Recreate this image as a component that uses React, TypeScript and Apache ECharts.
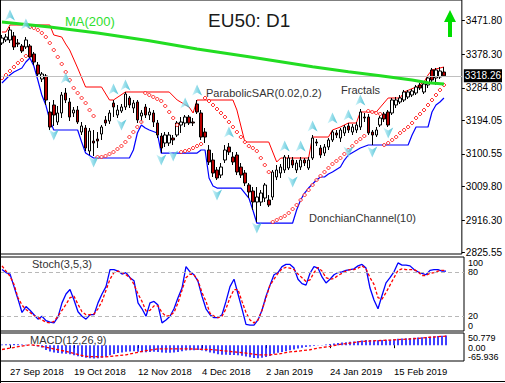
import React, { useEffect, useRef } from 'react';
import * as echarts from 'echarts';

const FF = '"Liberation Sans", Arial, sans-serif';

// x-axis tick labels (bar index -> label)
const tickIndex = [2, 18, 34, 50, 66, 82, 98];
const tickLabels = ['27 Sep 2018', '19 Oct 2018', '12 Nov 2018', '4 Dec 2018', '2 Jan 2019', '24 Jan 2019', '15 Feb 2019'];
const slotCount = 116;

const yTicks = [2825.55, 2916.3, 3009.8, 3100.55, 3194.05, 3284.8, 3378.3, 3471.8];
const stochLevels = [80, 20];
const stochBounds = [0, 100];
const macdZero = [0];
const macdBounds = [-65.936, 50.779];
const lastClose = 3318.26;

// [open, close, low, high]
const candles = [
  [3409.7, 3423.6, 3404.1, 3432.0], [3418.1, 3426.4, 3412.5, 3434.8], [3418.1, 3445.9, 3409.7, 3454.3],
  [3429.2, 3398.6, 3390.2, 3440.3], [3409.7, 3406.9, 3398.6, 3420.8], [3401.3, 3387.4, 3381.8, 3406.9],
  [3398.6, 3418.1, 3393.0, 3426.4], [3401.3, 3370.7, 3367.9, 3406.9], [3379.1, 3356.8, 3348.4, 3384.6],
  [3348.4, 3323.3, 3315.0, 3356.8], [3309.4, 3323.3, 3301.0, 3328.9], [3317.8, 3250.9, 3237.0, 3323.3],
  [3217.5, 3175.7, 3167.3, 3245.3], [3237.0, 3209.1, 3178.5, 3250.9], [3189.6, 3214.7, 3181.2, 3234.2],
  [3214.7, 3264.8, 3200.8, 3273.2], [3270.4, 3250.9, 3242.5, 3284.3], [3245.3, 3203.5, 3192.4, 3256.5],
  [3214.7, 3223.0, 3203.5, 3231.4], [3223.0, 3189.6, 3184.0, 3234.2], [3161.7, 3178.5, 3153.4, 3189.6],
  [3172.9, 3117.2, 3108.8, 3181.2], [3108.8, 3164.5, 3097.7, 3172.9], [3136.7, 3131.1, 3094.9, 3167.3],
  [3142.2, 3136.7, 3117.2, 3161.7], [3156.2, 3175.7, 3139.5, 3181.2], [3195.2, 3186.8, 3178.5, 3206.3],
  [3192.4, 3214.7, 3184.0, 3223.0], [3242.5, 3231.4, 3203.5, 3250.9], [3209.1, 3223.0, 3200.8, 3237.0],
  [3220.3, 3231.4, 3214.7, 3239.8], [3231.4, 3267.6, 3223.0, 3273.2], [3256.5, 3237.0, 3228.6, 3262.0],
  [3228.6, 3242.5, 3214.7, 3250.9], [3245.3, 3195.2, 3186.8, 3250.9], [3206.3, 3214.7, 3186.8, 3223.0],
  [3231.4, 3209.1, 3200.8, 3239.8], [3209.1, 3217.5, 3195.2, 3228.6], [3214.7, 3189.6, 3175.7, 3223.0],
  [3186.8, 3153.4, 3145.0, 3195.2], [3150.6, 3117.2, 3103.2, 3159.0], [3131.1, 3153.4, 3120.0, 3161.7],
  [3131.1, 3153.4, 3122.7, 3161.7], [3145.0, 3139.5, 3125.5, 3153.4], [3153.4, 3186.8, 3147.8, 3192.4],
  [3181.2, 3189.6, 3159.0, 3203.5], [3186.8, 3203.5, 3175.7, 3209.1], [3203.5, 3186.8, 3181.2, 3209.1],
  [3189.6, 3186.8, 3178.5, 3200.8], [3239.8, 3217.5, 3211.9, 3250.9], [3214.7, 3147.8, 3139.5, 3223.0],
  [3161.7, 3147.8, 3131.1, 3172.9], [3111.6, 3078.2, 3069.8, 3125.5], [3083.7, 3047.5, 3036.4, 3103.2],
  [3055.9, 3033.6, 3028.0, 3064.2], [3041.9, 3064.2, 3033.6, 3075.4], [3083.7, 3111.6, 3075.4, 3125.5],
  [3120.0, 3106.0, 3097.7, 3131.1], [3092.1, 3078.2, 3069.8, 3106.0], [3097.7, 3050.3, 3041.9, 3106.0],
  [3064.2, 3041.9, 3033.6, 3075.4], [3047.5, 3019.7, 3011.3, 3055.9], [3014.1, 2994.6, 2977.9, 3019.7],
  [2997.4, 2966.7, 2944.4, 3008.5], [2966.7, 2980.7, 2911.0, 3008.5], [2966.7, 2991.8, 2955.6, 3000.2],
  [2977.9, 3014.1, 2966.7, 3019.7], [2972.3, 2958.4, 2952.8, 2986.2], [2980.7, 3050.3, 2972.3, 3055.9],
  [3036.4, 3055.9, 3028.0, 3069.8], [3047.5, 3064.2, 3033.6, 3072.6], [3055.9, 3092.1, 3047.5, 3097.7],
  [3061.5, 3089.3, 3055.9, 3097.7], [3083.7, 3069.8, 3061.5, 3092.1], [3055.9, 3075.4, 3047.5, 3083.7],
  [3064.2, 3083.7, 3055.9, 3092.1], [3083.7, 3075.4, 3067.0, 3089.3], [3061.5, 3083.7, 3055.9, 3092.1],
  [3089.3, 3145.0, 3083.7, 3153.4], [3133.9, 3131.1, 3122.7, 3142.2], [3117.2, 3097.7, 3089.3, 3125.5],
  [3103.2, 3120.0, 3094.9, 3128.3], [3120.0, 3139.5, 3111.6, 3145.0], [3139.5, 3161.7, 3133.9, 3167.3],
  [3159.0, 3153.4, 3145.0, 3167.3], [3145.0, 3167.3, 3133.9, 3172.9], [3159.0, 3175.7, 3150.6, 3181.2],
  [3178.5, 3167.3, 3159.0, 3186.8], [3161.7, 3175.7, 3153.4, 3184.0], [3167.3, 3181.2, 3159.0, 3189.6],
  [3175.7, 3217.5, 3167.3, 3225.8], [3203.5, 3200.8, 3189.6, 3214.7], [3203.5, 3159.0, 3153.4, 3211.9],
  [3161.7, 3153.4, 3125.5, 3167.3], [3153.4, 3167.3, 3147.8, 3175.7], [3181.2, 3200.8, 3175.7, 3206.3],
  [3211.9, 3198.0, 3189.6, 3217.5], [3217.5, 3181.2, 3175.7, 3223.0], [3214.7, 3250.9, 3209.1, 3256.5],
  [3237.0, 3250.9, 3228.6, 3259.3], [3245.3, 3256.5, 3239.8, 3264.8], [3250.9, 3273.2, 3245.3, 3278.8],
  [3259.3, 3273.2, 3253.7, 3278.8], [3264.8, 3276.0, 3259.3, 3281.5], [3270.4, 3287.1, 3264.8, 3292.7],
  [3292.7, 3284.3, 3278.8, 3298.3], [3273.2, 3295.5, 3267.6, 3301.0], [3292.7, 3312.2, 3284.3, 3317.8],
  [3334.5, 3306.6, 3301.0, 3340.1], [3312.2, 3334.5, 3292.7, 3340.1], [3315.0, 3331.7, 3309.4, 3342.8],
  [3328.9, 3318.26, 3315.0, 3342.8],
];

// MA(200): [bar, value]
const ma200 = [
  [0, 3468.2], [12, 3454.3], [24, 3437.6], [37, 3416.1], [49, 3393.0], [62, 3371.5], [70, 3357.6],
  [78, 3343.7], [87, 3329.7], [95, 3318.6], [103, 3306.6], [107, 3299.1], [111, 3295.5],
];

// Donchian channel (10): [bar, value]
const donchianUpper = [
  [0, 3440.3], [1, 3440.3], [2, 3459.9], [12, 3459.9], [13, 3432.0], [15, 3426.4], [16, 3406.9], [17, 3390.2],
  [19, 3340.1], [21, 3287.1], [25, 3287.1], [27, 3250.9], [28, 3250.9], [31, 3273.2], [42, 3273.2], [44, 3250.9],
  [47, 3231.4], [48, 3214.7], [49, 3250.9], [58, 3250.9], [59, 3223.0], [61, 3133.9], [67, 3133.9], [69, 3078.2],
  [70, 3089.3], [77, 3089.3], [78, 3147.8], [82, 3147.8], [83, 3167.3], [85, 3175.7], [87, 3186.8], [89, 3186.8],
  [90, 3217.5], [94, 3217.5], [97, 3256.5], [100, 3256.5], [101, 3273.2], [104, 3287.1], [106, 3301.0],
  [107, 3320.5], [108, 3334.5], [111, 3342.8],
];
const donchianLower = [
  [0, 3298.3], [2, 3320.5], [3, 3328.9], [5, 3340.1], [6, 3356.8], [7, 3367.9], [8, 3345.6], [9, 3306.6],
  [10, 3264.8], [11, 3237.0], [12, 3195.2], [13, 3167.3], [19, 3167.3], [20, 3133.9], [21, 3103.2], [23, 3089.3],
  [32, 3089.3], [33, 3111.6], [34, 3159.0], [35, 3181.2], [36, 3172.9], [37, 3167.3], [39, 3159.0], [40, 3103.2],
  [49, 3103.2], [50, 3111.6], [51, 3111.6], [52, 3033.6], [53, 3011.3], [54, 3005.7], [60, 3005.7], [62, 2977.9],
  [63, 2944.4], [64, 2908.2], [73, 2908.2], [74, 2944.4], [75, 2972.3], [76, 2991.8], [77, 3005.7], [79, 3028.0],
  [80, 3036.4], [81, 3036.4], [82, 3044.7], [83, 3050.3], [85, 3064.2], [86, 3083.7], [87, 3097.7], [90, 3117.2],
  [92, 3125.5], [102, 3125.5], [103, 3153.4], [104, 3175.7], [107, 3175.7], [108, 3217.5], [109, 3237.0],
  [110, 3245.3], [111, 3256.5],
];

// Parabolic SAR (0.02, 0.2), one value per bar
const sar = [
  3312.2, 3320.5, 3331.7, 3342.8, 3354.0, 3362.3, 3373.5,
  3454.3, 3451.5, 3445.9, 3437.6, 3426.4, 3409.7, 3390.2, 3370.7, 3351.2, 3328.9, 3306.6, 3284.3, 3270.4, 3256.5, 3242.5, 3223.0, 3206.3,
  3092.1, 3092.1, 3094.9, 3100.5, 3106.0, 3114.4, 3122.7, 3133.9, 3147.8, 3161.7, 3175.7, 3189.6,
  3270.4, 3264.8, 3259.3, 3253.7, 3248.1, 3234.2, 3217.5, 3200.8, 3181.2,
  3106.0, 3108.8, 3111.6, 3117.2, 3122.7, 3128.3,
  3256.5, 3248.1, 3237.0, 3225.8, 3214.7, 3203.5, 3189.6, 3175.7, 3161.7, 3147.8, 3133.9, 3122.7, 3117.2, 3108.8, 3089.3, 3069.8, 3050.3,
  2911.0, 2916.6, 2922.2, 2927.7, 2936.1, 2947.2, 2958.4, 2972.3, 2986.2, 3000.2, 3014.1, 3028.0, 3039.2, 3050.3, 3061.5, 3072.6,
  3081.0, 3089.3, 3100.5, 3111.6, 3122.7, 3133.9, 3142.2, 3150.6,
  3220.3, 3217.5, 3214.7, 3211.9,
  3125.5, 3131.1, 3139.5, 3147.8, 3159.0, 3167.3, 3175.7, 3186.8, 3200.8, 3211.9, 3223.0, 3237.0, 3250.9, 3264.8, 3278.8, 3292.7,
];

// Fractals: [bar, marker level]
const fractalsUp = [
  [2, 3487.7], [6, 3462.6], [16, 3312.2], [28, 3281.5], [31, 3292.7], [46, 3242.5], [49, 3278.8],
  [57, 3161.7], [71, 3122.7], [75, 3122.7], [78, 3178.5], [83, 3200.8], [87, 3209.1], [90, 3250.9],
];
const fractalsDown = [
  [13, 3153.4], [23, 3078.2], [30, 3181.2], [40, 3083.7], [43, 3094.9], [54, 2986.2], [64, 2894.3],
  [73, 3022.4], [87, 3106.0], [93, 3106.0], [97, 3159.0],
];

// Stochastic (3,5,3)
const stochK = [
  83, 79, 77, 60, 43, 25, 33, 28, 22, 16,
  20, 14, 12, 11, 19, 38, 50, 56, 42, 26,
  20, 16, 22, 22, 38, 50, 60, 83, 83, 81,
  77, 79, 72, 68, 38, 30, 20, 38, 40, 35,
  11, 15, 20, 30, 45, 58, 87, 80, 76, 67,
  47, 30, 22, 18, 18, 22, 40, 60, 70, 50,
  30, 9, 8, 8, 15, 28, 47, 62, 76, 79,
  87, 90, 90, 85, 70, 64, 62, 78, 87, 85,
  73, 65, 70, 76, 79, 80, 82, 83, 84, 88,
  90, 85, 58, 42, 30, 48, 65, 72, 80, 92,
  89, 89, 88, 83, 80, 78, 76, 82, 83, 83,
  81, 81,
];
const stochD = [
  88, 81, 74, 63, 45, 35, 29, 25, 21, 18,
  15, 12, 11, 13, 20, 28, 36, 45, 47, 36,
  26, 22, 22, 23, 30, 40, 55, 70, 79, 81,
  79, 76, 72, 63, 50, 40, 27, 28, 34, 34,
  25, 20, 21, 25, 38, 55, 72, 77, 76, 68,
  52, 40, 24, 20, 18, 20, 30, 45, 56, 56,
  40, 25, 15, 11, 15, 28, 45, 62, 70, 78,
  84, 86, 85, 83, 77, 72, 67, 69, 79, 86,
  81, 72, 70, 71, 75, 78, 81, 83, 83, 85,
  88, 84, 72, 63, 45, 43, 52, 62, 72, 82,
  84, 83, 83, 83, 80, 75, 75, 78, 79, 81,
  82, 82,
];

// MACD (12,26,9)
const macdHist = [
  3, 4, 4, 5, 4, 3, 2, 0, -3, -6,
  -10, -20, -26, -30, -33, -35, -36, -38, -42, -46,
  -49, -52, -54, -55, -54, -52, -48, -42, -37, -33,
  -30, -27, -26, -25, -27, -29, -29, -28, -27, -28,
  -31, -32, -32, -31, -28, -25, -22, -21, -21, -20,
  -22, -25, -30, -34, -38, -40, -40, -41, -41, -42,
  -44, -47, -50, -53, -54, -52, -49, -45, -36, -32,
  -28, -25, -21, -18, -14, -11, -8, -6, -3, -1,
  1, 3, 5, 7, 9, 11, 12, 14, 15, 17,
  20, 22, 22, 21, 21, 22, 23, 23, 25, 27,
  28, 29, 30, 31, 32, 33, 34, 35, 37, 38,
  39, 40,
];
const macdSignal = [
  [0, -18], [7, 2], [9, -2], [16, -26], [21, -47], [26, -49], [31, -40], [35, -26], [39, -15], [46, -15],
  [53, -19], [58, -28], [61, -33], [64, -40], [67, -40], [69, -37], [72, -28], [74, -25], [77, -19], [79, -12],
  [82, -5], [84, 2], [87, 9], [90, 16], [94, 19], [98, 22], [103, 27], [107, 33], [111, 38],
];

const cats = Array.from({ length: slotCount }, (_, i) => String(i));

function buildOption() {
  const axisText = { fontFamily: FF, fontSize: 10, color: '#000' };
  const smallText = { fontFamily: FF, fontSize: 9, color: '#000' };
  const fractalColor = new echarts.graphic.LinearGradient(0, 0, 1, 0, [
    { offset: 0, color: '#c9f3fa' },
    { offset: 1, color: '#27b3cc' },
  ]);
  const plainAxis = { type: 'value', position: 'right', axisLine: { show: false }, splitLine: { show: false }, axisTick: { show: false } };
  return {
    animation: false,
    backgroundColor: '#ffffff',
    grid: [
      { left: 0, top: 0, width: 464, height: 254, show: true, borderColor: '#000', borderWidth: 1 },
      { left: 0, top: 257, width: 464, height: 74, show: true, borderColor: '#000', borderWidth: 1 },
      { left: 0, top: 333, width: 464, height: 28, show: true, borderColor: '#000', borderWidth: 1 },
    ],
    xAxis: [
      { type: 'category', gridIndex: 0, data: cats, show: false },
      { type: 'category', gridIndex: 1, data: cats, show: false },
      {
        type: 'category', gridIndex: 2, data: cats,
        axisLine: { show: false },
        splitLine: { show: false },
        axisTick: {
          show: true, alignWithLabel: true, length: 3,
          interval: (i: number) => tickIndex.includes(i),
          lineStyle: { color: '#000' },
        },
        axisLabel: {
          show: true,
          interval: (i: number) => tickIndex.includes(i),
          formatter: (_v: string, i: number) => {
            const k = tickIndex.indexOf(i);
            return k >= 0 ? tickLabels[k] : '';
          },
          align: 'left', margin: 5, fontFamily: FF, fontSize: 9.5, color: '#000',
        },
      },
    ],
    yAxis: [
      {
        type: 'value', gridIndex: 0, position: 'right', min: 2821.93, max: 3529.47,
        axisLine: { show: false }, splitLine: { show: false },
        axisTick: { show: true, length: 3, customValues: yTicks, lineStyle: { color: '#000' } },
        axisLabel: { ...axisText, margin: 4, customValues: yTicks, formatter: (v: number) => v.toFixed(2) },
      },
      {
        ...plainAxis, gridIndex: 1, min: 0, max: 100,
        axisLabel: { ...smallText, margin: 4, customValues: stochLevels, formatter: (v: number) => String(v) },
      },
      {
        ...plainAxis, gridIndex: 2, min: macdBounds[0], max: macdBounds[1],
        axisLabel: {
          ...smallText, margin: 4, customValues: macdZero,
          formatter: () => '{m|0.00}',
          rich: { m: { ...smallText, padding: [5, 0, 0, 0] } },
        },
      },
      {
        ...plainAxis, gridIndex: 1, min: 0, max: 100,
        axisLabel: {
          ...smallText, margin: 4, customValues: stochBounds, showMinLabel: true, showMaxLabel: true,
          formatter: (v: number) => (v >= 100 ? '{t|100}' : '{b|0}'),
          rich: {
            t: { ...smallText, padding: [12, 0, 0, 0] },
            b: { ...smallText, padding: [0, 0, 10, 0] },
          },
        },
      },
      {
        ...plainAxis, gridIndex: 2, min: macdBounds[0], max: macdBounds[1],
        axisLabel: {
          ...smallText, margin: 4, customValues: macdBounds, showMinLabel: true, showMaxLabel: true,
          formatter: (v: number) => (v > 0 ? `{t|${v.toFixed(3)}}` : `{b|${v.toFixed(3)}}`),
          rich: {
            t: { ...smallText, padding: [9, 0, 0, 0] },
            b: { ...smallText, padding: [0, 0, 9, 0] },
          },
        },
      },
    ],
    series: [
      {
        type: 'candlestick', xAxisIndex: 0, yAxisIndex: 0, data: candles, barWidth: 3,
        itemStyle: { color: '#ffffff', color0: '#b80000', borderColor: '#000', borderColor0: '#000', borderWidth: 1 },
        markLine: {
          silent: true, symbol: ['none', 'none'],
          data: [{ yAxis: lastClose }],
          lineStyle: { color: '#c0c0c0', width: 1, type: 'solid' },
          label: {
            show: true, position: 'end', formatter: lastClose.toFixed(2), distance: 2,
            color: '#fff', backgroundColor: '#000', padding: [2, 1, 1, 1], fontFamily: FF, fontSize: 10,
          },
        },
        z: 3,
      },
      {
        type: 'line', xAxisIndex: 0, yAxisIndex: 0, data: donchianUpper, symbol: 'none',
        lineStyle: { color: '#ff0000', width: 1 }, z: 2,
      },
      {
        type: 'line', xAxisIndex: 0, yAxisIndex: 0, data: donchianLower, symbol: 'none',
        lineStyle: { color: '#0000ff', width: 1.2 }, z: 2,
      },
      {
        type: 'scatter', xAxisIndex: 0, yAxisIndex: 0, data: sar, symbol: 'diamond', symbolSize: 4,
        itemStyle: { color: '#ffffff', borderColor: '#ff0000', borderWidth: 1 }, z: 4,
      },
      {
        type: 'line', xAxisIndex: 0, yAxisIndex: 0, data: ma200, symbol: 'none',
        lineStyle: { color: '#22dd22', width: 3 }, z: 5,
      },
      {
        type: 'scatter', xAxisIndex: 0, yAxisIndex: 0, data: fractalsUp,
        symbol: 'path://M5,0 L10,11 L5,8 L0,11 Z', symbolSize: [10, 11],
        itemStyle: { color: fractalColor }, z: 6,
      },
      {
        type: 'scatter', xAxisIndex: 0, yAxisIndex: 0, data: fractalsDown,
        symbol: 'path://M0,0 L5,3 L10,0 L5,11 Z', symbolSize: [10, 11],
        itemStyle: { color: fractalColor }, z: 6,
      },
      {
        type: 'line', xAxisIndex: 1, yAxisIndex: 1, data: stochK, symbol: 'none',
        lineStyle: { color: '#0000ff', width: 1.3 },
        markLine: {
          silent: true, symbol: ['none', 'none'], label: { show: false },
          data: stochLevels.map((v) => ({ yAxis: v })),
          lineStyle: { color: '#b8b8b8', width: 1, type: [4, 3] },
        },
      },
      {
        type: 'line', xAxisIndex: 1, yAxisIndex: 1, data: stochD, symbol: 'none',
        lineStyle: { color: '#ff0000', width: 1.3, type: [3, 2] },
      },
      {
        type: 'bar', xAxisIndex: 2, yAxisIndex: 2, data: macdHist, barWidth: 1.5,
        itemStyle: { color: '#0000ff' },
      },
      {
        type: 'line', xAxisIndex: 2, yAxisIndex: 2, data: macdSignal, symbol: 'none',
        lineStyle: { color: '#ff0000', width: 1.3, type: [3, 2] }, z: 3,
      },
    ],
    graphic: [
      { type: 'line', z: 100, shape: { x1: 0.5, y1: 0, x2: 0.5, y2: 383 }, style: { stroke: '#000', lineWidth: 1 } },
      { type: 'line', z: 100, shape: { x1: 0, y1: 381.5, x2: 505, y2: 381.5 }, style: { stroke: '#000', lineWidth: 1 } },
      { type: 'text', z: 100, x: 208, y: 20, style: { text: 'EU50: D1', fontFamily: FF, fontSize: 19, fill: '#1a1a1a', verticalAlign: 'middle' } },
      { type: 'text', z: 100, x: 65, y: 21, style: { text: 'MA(200)', fontFamily: FF, fontSize: 13, fill: '#2ee02e', verticalAlign: 'middle' } },
      { type: 'text', z: 100, x: 206, y: 93, style: { text: 'ParabolicSAR(0.02,0.2)', fontFamily: FF, fontSize: 11, fill: '#333', verticalAlign: 'middle' } },
      { type: 'text', z: 100, x: 341, y: 90, style: { text: 'Fractals', fontFamily: FF, fontSize: 11, fill: '#333', verticalAlign: 'middle' } },
      { type: 'text', z: 100, x: 309, y: 218, style: { text: 'DonchianChannel(10)', fontFamily: FF, fontSize: 11, fill: '#333', verticalAlign: 'middle' } },
      { type: 'text', z: 100, x: 32, y: 264, style: { text: 'Stoch(3,5,3)', fontFamily: FF, fontSize: 11, fill: '#333', verticalAlign: 'middle' } },
      { type: 'text', z: 100, x: 30, y: 340, style: { text: 'MACD(12,26,9)', fontFamily: FF, fontSize: 11, fill: '#333', verticalAlign: 'middle' } },
      {
        type: 'polygon', z: 100,
        shape: { points: [[444, 22], [450, 10], [456, 22], [452, 22], [452, 37], [448, 37], [448, 22]] },
        style: { fill: '#00dd00' },
      },
    ],
  };
}

export default function App() {
  const ref = useRef<HTMLDivElement>(null);
  useEffect(() => {
    if (!ref.current) return;
    const chart = echarts.init(ref.current, null, { renderer: 'svg' });
    chart.setOption(buildOption() as any);
    return () => chart.dispose();
  }, []);
  return <div ref={ref} style={{ position: 'fixed', left: 0, top: 0, width: 505, height: 383 }} />;
}
